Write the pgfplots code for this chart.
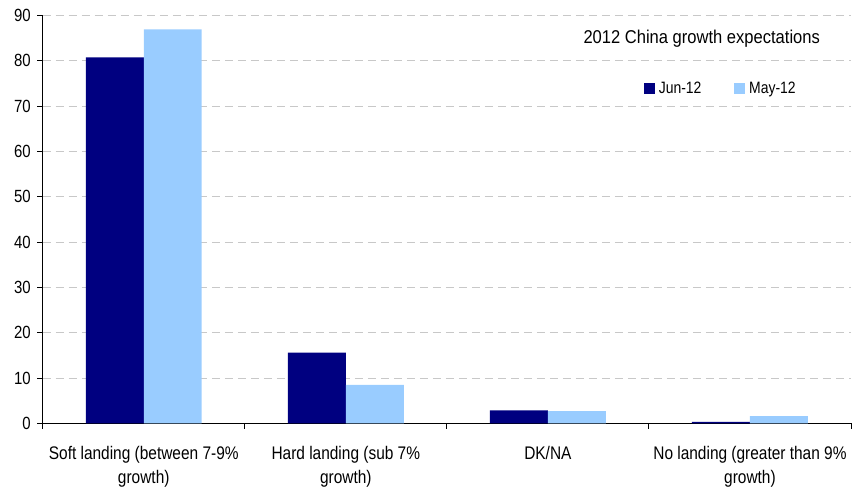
\documentclass[border=0pt]{standalone}
\usepackage{pgfplots}
\pgfplotsset{compat=1.18}
\usepackage{fontspec}
\setmainfont{Liberation Sans}
\definecolor{jun}{HTML}{000080}
\definecolor{may}{HTML}{99CCFF}
\definecolor{gridc}{HTML}{C8C8C8}
\newcommand{\vs}[1]{\scalebox{1}[1.18]{#1}}
\newcommand{\xl}[1]{\vs{\begin{tabular}{@{}c@{}}#1\end{tabular}}}
\begin{document}
\begin{tikzpicture}
\begin{axis}[
  scale only axis, width=808bp, height=408bp,
  xmin=-0.5, xmax=3.5, ymin=0, ymax=90,
  ytick={0,10,...,90},
  xtick={-0.5,0.5,1.5,2.5,3.5},
  x tick label as interval,
  xticklabels={{\xl{Soft landing (between 7-9\%\\growth)}},{\xl{Hard landing (sub 7\%\\growth)}},{\xl{DK/NA}},{\xl{No landing (greater than 9\%\\growth)}}},
  yticklabel={\vs{\pgfmathprintnumber{\tick}}},
  axis lines*=left,
  axis line style={black, line width=1.3bp},
  tick align=outside,
  major tick length=5.5bp,
  tick style={black, line width=1bp},
  ymajorgrids,
  grid style={gridc, line width=0.9bp, dash pattern=on 8bp off 5bp},
  ybar=0pt, bar width=0.287,
  /pgf/number format/assume math mode=true,
  yticklabel style={font=\fontsize{15}{18}\selectfont, xshift=-3bp},
  xticklabel style={font=\fontsize{15.5}{20}\selectfont, anchor=north, inner sep=0pt, yshift=-14bp},
  legend style={draw=none, fill=none, at={(rel axis cs:0.839,0.82)}, anchor=center, legend columns=2,
    font=\fontsize{14}{16}\selectfont,
    /tikz/every odd column/.append style={column sep=2bp},
    /tikz/every even column/.append style={column sep=31bp}},
]
\addplot[fill=jun, draw=none, legend image code/.code={\fill[jun] (0bp,-5.5bp) rectangle (10.7bp,5.8bp);}] coordinates {(0,80.7) (1,15.6) (2,2.9) (3,0.35)};
\addlegendentry{\vs{Jun-12}}
\addplot[fill=may, draw=none, legend image code/.code={\fill[may] (0bp,-5.5bp) rectangle (10.7bp,5.8bp);}] coordinates {(0,86.9) (1,8.5) (2,2.7) (3,1.6)};
\addlegendentry{\vs{May-12}}
\node[font=\fontsize{16.6}{19}\selectfont, anchor=base] at (rel axis cs:0.8153,0.931) {\scalebox{1}[1.12]{2012 China growth expectations}};
\end{axis}
\pgfresetboundingbox
\useasboundingbox ([shift={(-42.7bp,-63.7bp)}]current axis.south west) rectangle ([shift={(8bp,15.3bp)}]current axis.north east);
\end{tikzpicture}
\end{document}
